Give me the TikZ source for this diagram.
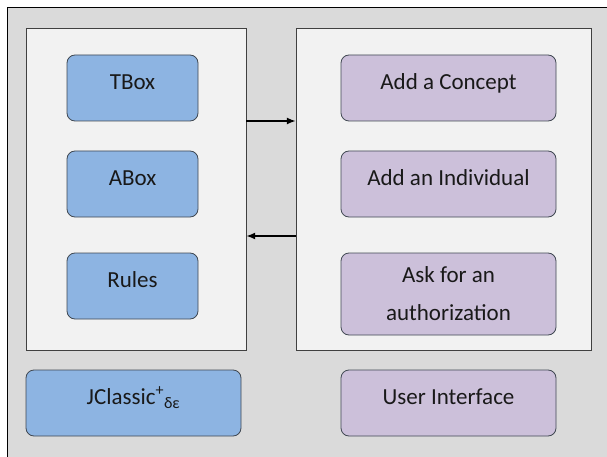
\documentclass[tikz,border=0pt]{standalone}
\usepackage{fontspec}
\setmainfont{Carlito}
\usepackage{tikz}
\usetikzlibrary{arrows,arrows.meta,shapes,positioning}
\definecolor{framegray}{HTML}{DADADA}
\definecolor{panelgray}{HTML}{F2F2F2}
\definecolor{kbblue}{HTML}{8DB4E2}
\definecolor{uipurple}{HTML}{CCC0DA}
\definecolor{boxline}{HTML}{404852}

\begin{document}
\begin{tikzpicture}[x=1pt, y=-1pt,
			rec/.style   = {draw=boxline, rounded corners=8pt, align=center, line width=0.8pt,
			                minimum height=66pt, inner sep=2pt, text=black!90,
			                text height=16pt, text depth=13pt,
			                font=\fontsize{23}{38}\selectfont},
			kb/.style    = {rec, fill=kbblue, minimum width=131pt},
			ui/.style    = {rec, fill=uipurple, minimum width=215pt},
			panel/.style = {draw=black!75, fill=panelgray, rectangle, thin, inner sep=0pt},
			node distance=96pt,
			>={Latex[length=9pt,width=7pt]}]
			
			% picture size and grey frame
			\useasboundingbox (0,0) rectangle (607,457);
			\clip (0,0) rectangle (607,457);
			\draw[black, fill=framegray, line width=0.8pt] (7,7) rectangle (620,470);
			
			% the two panels
			\node[panel, minimum width=220pt, minimum height=322pt] (kbase) at (136,189) {};
			\node[panel, minimum width=295pt, minimum height=322pt] (iface) at (443.5,189) {};
			
			% left column, relatively positioned nodes
			\node[kb] (k1) at (132.5,88) {TBox};
			\node[kb, below of = k1] (k2) {ABox};
			\node[kb, below of = k2, yshift=-6pt] (k3) {Rules};
			\node[rec, fill=kbblue, minimum width=215pt] (jclassic) at (133.5,403)
				{JClassic\textsuperscript{+}\textsubscript{δε}};
			
			% right column
			\node[ui] (u1) at (448.5,88) {Add a Concept};
			\node[ui, below of = u1] (u2) {Add an Individual};
			\node[ui, below of = u2, yshift=-14pt, minimum height=82pt,
				text height={}, text depth={}] (u3) {Ask for an\\authorization};
			\node[ui] (uinter) at (448.5,403) {User Interface};
			
			% arrows between the panels
			\draw[->, line width=1.5pt] ([yshift=68pt]kbase.east) -- ([yshift=68pt]iface.west);
			\draw[->, line width=1.5pt] ([yshift=-47pt]iface.west) -- ([yshift=-47pt]kbase.east);
		\end{tikzpicture}
\end{document}
